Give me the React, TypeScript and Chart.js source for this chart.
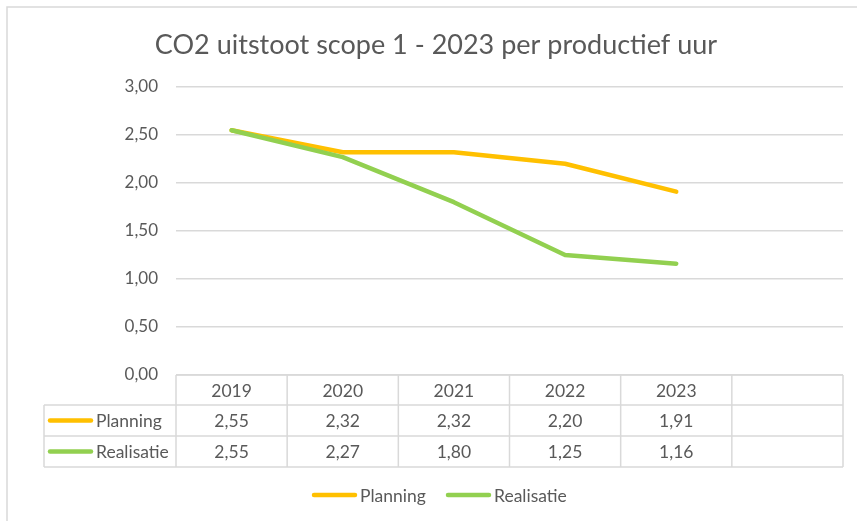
import React, { useEffect, useRef } from "react";
import { Chart, registerables } from "chart.js";

Chart.register(...registerables);

const title = "CO2 uitstoot scope 1 - 2023 per productief uur";
const categories = ["2019", "2020", "2021", "2022", "2023", ""];
const planning: (number | null)[] = [2.55, 2.32, 2.32, 2.2, 1.91, null];
const realisatie: (number | null)[] = [2.55, 2.27, 1.8, 1.25, 1.16, null];
const seriesNames = ["Planning", "Realisatie"];
const seriesColors = ["#FFC000", "#92D050"];
const yMin = 0;
const yMax = 3;
const yStep = 0.5;

const FONT = "Lato, 'Open Sans', sans-serif";
const TEXT = "#595959";
const GRID = "#D9D9D9";

const fmt = (v: number | null) => (v == null ? "" : v.toFixed(2).replace(".", ","));

const tablePlugin = {
  id: "excelExtras",
  afterDraw(chart: any) {
    const ctx = chart.ctx as CanvasRenderingContext2D;
    const area = chart.chartArea;
    const xs = chart.scales.x;
    ctx.save();

    // outer chart border (top & left visible)
    ctx.strokeStyle = GRID;
    ctx.lineWidth = 1.5;
    ctx.beginPath();
    ctx.moveTo(7, chart.height);
    ctx.lineTo(7, 7);
    ctx.lineTo(chart.width, 7);
    ctx.stroke();

    // title
    ctx.fillStyle = TEXT;
    ctx.font = `27px ${FONT}`;
    ctx.textAlign = "center";
    ctx.textBaseline = "middle";
    ctx.fillText(title, 436, 45);

    // data table
    const step = xs.getPixelForValue(1) - xs.getPixelForValue(0);
    const top = area.bottom;
    const r1 = top + 30;
    const r2 = r1 + 31;
    const r3 = r2 + 31;
    const labelLeft = 44;
    ctx.strokeStyle = GRID;
    ctx.lineWidth = 1.5;
    ctx.beginPath();
    ctx.moveTo(area.left, top);
    ctx.lineTo(area.right, top);
    [r1, r2, r3].forEach((y) => {
      ctx.moveTo(labelLeft, y);
      ctx.lineTo(area.right, y);
    });
    ctx.moveTo(labelLeft, r1);
    ctx.lineTo(labelLeft, r3);
    for (let i = 0; i <= categories.length; i++) {
      const x = xs.getPixelForValue(0) - step / 2 + i * step;
      ctx.moveTo(x, top);
      ctx.lineTo(x, r3);
    }
    ctx.stroke();

    ctx.font = `17.5px ${FONT}`;
    ctx.fillStyle = TEXT;
    ctx.textAlign = "center";
    categories.forEach((c, i) => {
      ctx.fillText(c, xs.getPixelForValue(i), (top + r1) / 2 + 1);
    });
    const rows = [planning, realisatie];
    const rowYs = [(r1 + r2) / 2 + 1, (r2 + r3) / 2 + 1];
    rows.forEach((vals, ri) => {
      vals.forEach((v, i) => {
        ctx.fillText(fmt(v), xs.getPixelForValue(i), rowYs[ri]);
      });
    });
    // row headers with legend keys
    rows.forEach((_, ri) => {
      const y = rowYs[ri] - 1;
      ctx.strokeStyle = seriesColors[ri];
      ctx.lineWidth = 4.5;
      ctx.lineCap = "round";
      ctx.beginPath();
      ctx.moveTo(50, y);
      ctx.lineTo(91, y);
      ctx.stroke();
      ctx.textAlign = "left";
      ctx.fillStyle = TEXT;
      ctx.fillText(seriesNames[ri], 96, rowYs[ri]);
    });

    // legend
    const legendY = 495;
    const legendItems = [
      { x: 314, name: seriesNames[0], color: seriesColors[0] },
      { x: 448, name: seriesNames[1], color: seriesColors[1] },
    ];
    legendItems.forEach((it) => {
      ctx.strokeStyle = it.color;
      ctx.lineWidth = 4.5;
      ctx.lineCap = "round";
      ctx.beginPath();
      ctx.moveTo(it.x, legendY);
      ctx.lineTo(it.x + 41, legendY);
      ctx.stroke();
      ctx.fillStyle = TEXT;
      ctx.textAlign = "left";
      ctx.fillText(it.name, it.x + 46, legendY + 1);
    });

    ctx.restore();
  },
};

export default function App() {
  const ref = useRef<HTMLCanvasElement | null>(null);
  useEffect(() => {
    if (!ref.current) return;
    const chart = new Chart(ref.current, {
      type: "line",
      data: {
        labels: categories,
        datasets: [
          {
            label: seriesNames[0],
            data: planning,
            borderColor: seriesColors[0],
            backgroundColor: seriesColors[0],
            borderWidth: 4.5,
            pointRadius: 0,
            tension: 0,
            borderCapStyle: "round",
            borderJoinStyle: "round",
            order: 1,
          },
          {
            label: seriesNames[1],
            data: realisatie,
            borderColor: seriesColors[1],
            backgroundColor: seriesColors[1],
            borderWidth: 4.5,
            pointRadius: 0,
            tension: 0,
            borderCapStyle: "round",
            borderJoinStyle: "round",
            order: 0,
          },
        ],
      },
      options: {
        responsive: false,
        animation: false,
        layout: { padding: { left: 7, right: 14, top: 87, bottom: 146 } },
        plugins: {
          legend: { display: false },
          title: { display: false },
          tooltip: { enabled: false },
        },
        scales: {
          x: { display: false, offset: true },
          y: {
            min: yMin,
            max: yMax,
            ticks: {
              stepSize: yStep,
              color: TEXT,
              font: { family: FONT, size: 17 },
              padding: 18,
              callback: (v: any) => fmt(Number(v)),
            },
            grid: { color: GRID, lineWidth: 1.5, drawTicks: false },
            border: { display: false },
            afterFit: (axis: any) => {
              axis.width = 169;
            },
          },
        },
      },
      plugins: [tablePlugin],
    });
    return () => chart.destroy();
  }, []);
  return (
    <div style={{ position: "absolute", left: 0, top: 0, width: 857, height: 521, background: "#fff" }}>
      <canvas ref={ref} width={857} height={521} />
    </div>
  );
}
